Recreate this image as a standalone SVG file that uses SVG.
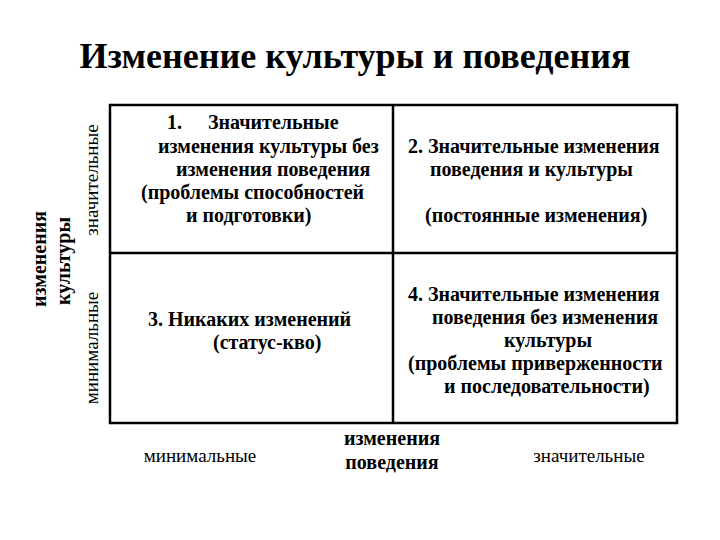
<svg xmlns="http://www.w3.org/2000/svg" width="720" height="540" viewBox="0 0 720 540">
<style>
text{font-family:"Liberation Serif","Times New Roman",serif;fill:#000}
.t{font-size:36px;font-weight:bold}
.q{font-size:20px;font-weight:bold}
.a{font-size:19px}
.ab{font-size:20px;font-weight:bold}
.g{fill:none;stroke:#000;stroke-width:2.5}
</style>
<rect width="720" height="540" fill="#fff"/>
<text class="t" x="355" y="68" text-anchor="middle">Изменение культуры и поведения</text>
<g id="grid">
<rect class="g" x="110" y="105" width="567" height="318"/>
<line class="g" x1="393" y1="105" x2="393" y2="423"/>
<line class="g" x1="110" y1="253" x2="677" y2="253"/>
</g>
<g id="q1">
<text class="q" x="167" y="129">1.</text>
<text class="q" x="208" y="129">Значительные</text>
<text class="q" x="158" y="153">изменения культуры без</text>
<text class="q" x="176" y="176">изменения поведения</text>
<text class="q" x="141" y="199">(проблемы способностей</text>
<text class="q" x="186" y="222">и подготовки)</text>
</g>
<g id="q2">
<text class="q" x="408" y="153">2. Значительные изменения</text>
<text class="q" x="430" y="176">поведения и культуры</text>
<text class="q" x="425" y="222">(постоянные изменения)</text>
</g>
<g id="q3">
<text class="q" x="148" y="326">3. Никаких изменений</text>
<text class="q" x="213" y="349">(статус-кво)</text>
</g>
<g id="q4">
<text class="q" x="408" y="301">4. Значительные изменения</text>
<text class="q" x="432" y="324">поведения без изменения</text>
<text class="q" x="504" y="347">культуры</text>
<text class="q" x="408" y="370">(проблемы приверженности</text>
<text class="q" x="444" y="393">и последовательности)</text>
</g>
<g id="yaxis">
<text class="ab" transform="translate(46,259) rotate(-90)" text-anchor="middle">изменения</text>
<text class="ab" transform="translate(70,261) rotate(-90)" text-anchor="middle">культуры</text>
<text class="a" transform="translate(98,180) rotate(-90)" text-anchor="middle">значительные</text>
<text class="a" transform="translate(98,348) rotate(-90)" text-anchor="middle">минимальные</text>
</g>
<g id="xaxis">
<text class="a" x="200" y="462" text-anchor="middle">минимальные</text>
<text class="ab" x="392" y="445" text-anchor="middle">изменения</text>
<text class="ab" x="392" y="469" text-anchor="middle">поведения</text>
<text class="a" x="589" y="462" text-anchor="middle">значительные</text>
</g>
</svg>
